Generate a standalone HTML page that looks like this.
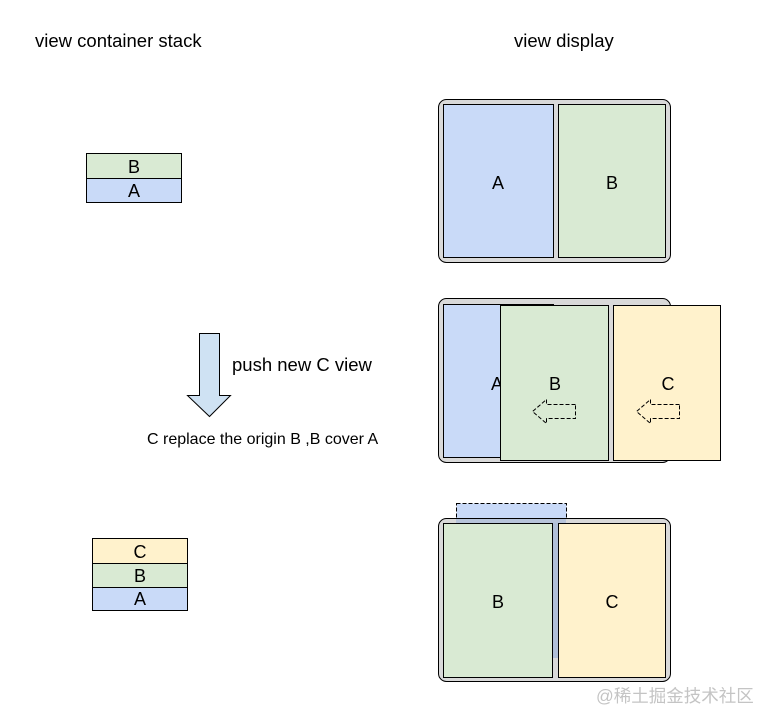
<!DOCTYPE html>
<html><head><meta charset="utf-8"><style>
html,body{margin:0;padding:0;background:#fff;width:774px;height:723px;overflow:hidden}
svg text{font-family:"Liberation Sans","Noto Sans CJK SC",sans-serif;fill:#000}
</style></head><body>
<svg width="774" height="723" viewBox="0 0 774 723" xmlns="http://www.w3.org/2000/svg">
<text x="35" y="47" font-size="18.5">view container stack</text>
<text x="514" y="47" font-size="18.5">view display</text>

<!-- left stack 1 -->
<rect x="86.5" y="153.5" width="95" height="25" fill="#d9ead3" stroke="#000"/>
<rect x="86.5" y="178.5" width="95" height="24" fill="#c9daf8" stroke="#000"/>
<text x="134" y="173" font-size="18" text-anchor="middle">B</text>
<text x="134" y="197" font-size="18" text-anchor="middle">A</text>

<!-- arrow -->
<path d="M199.5 333.5 H219.5 V395.5 H230.5 L209.5 416.5 L187.5 395.5 H199.5 Z" fill="#cfe2f3" stroke="#000"/>
<text x="232" y="371" font-size="18.5">push new C view</text>
<text x="147" y="444" font-size="16">C replace the origin B ,B cover A</text>

<!-- left stack 2 -->
<rect x="92.5" y="538.5" width="95" height="25" fill="#fff2cc" stroke="#000"/>
<rect x="92.5" y="563.5" width="95" height="24" fill="#d9ead3" stroke="#000"/>
<rect x="92.5" y="587.5" width="95" height="23" fill="#c9daf8" stroke="#000"/>
<text x="140" y="558" font-size="18" text-anchor="middle">C</text>
<text x="140" y="582" font-size="18" text-anchor="middle">B</text>
<text x="140" y="605" font-size="18" text-anchor="middle">A</text>

<!-- top device -->
<rect x="438.5" y="99.5" width="232" height="163" rx="8" fill="#d9d9d9" stroke="#000"/>
<rect x="443.5" y="104.5" width="110" height="153" fill="#c9daf8" stroke="#000"/>
<rect x="558.5" y="104.5" width="107" height="153" fill="#d9ead3" stroke="#000"/>
<text x="498" y="189" font-size="18" text-anchor="middle">A</text>
<text x="612" y="189" font-size="18" text-anchor="middle">B</text>

<!-- middle device -->
<rect x="438.5" y="298.5" width="232" height="164" rx="8" fill="#d9d9d9" stroke="#000"/>
<rect x="443.5" y="304.5" width="110" height="153" fill="#c9daf8" stroke="#000"/>
<text x="497" y="390" font-size="18" text-anchor="middle">A</text>
<rect x="500.5" y="305.5" width="108" height="155" fill="#d9ead3" stroke="#000"/>
<rect x="613.5" y="305.5" width="107" height="155" fill="#fff2cc" stroke="#000"/>
<text x="555" y="390" font-size="18" text-anchor="middle">B</text>
<text x="668" y="390" font-size="18" text-anchor="middle">C</text>
<path d="M575.5 404.5 H546.5 V399.5 L532.5 411.5 L546.5 423.5 V418.5 H575.5 Z" fill="none" stroke="#000" stroke-dasharray="4,2"/>
<path d="M679.5 404.5 H650.5 V399.5 L636.5 411.5 L650.5 423.5 V418.5 H679.5 Z" fill="none" stroke="#000" stroke-dasharray="4,2"/>

<!-- bottom device -->
<rect x="456.5" y="503.5" width="110" height="20" fill="#c9daf8" stroke="#000" stroke-dasharray="4,2"/>
<rect x="438.5" y="518.5" width="232" height="163" rx="8" fill="#d9d9d9" stroke="#000"/>
<rect x="456" y="519" width="110" height="5" fill="#b7c4da"/>
<rect x="552" y="523" width="7" height="135" fill="#b0bfd8"/>
<rect x="443.5" y="523.5" width="109" height="154" fill="#d9ead3" stroke="#000"/>
<rect x="558.5" y="523.5" width="107" height="154" fill="#fff2cc" stroke="#000"/>
<text x="498" y="608" font-size="18" text-anchor="middle">B</text>
<text x="612" y="608" font-size="18" text-anchor="middle">C</text>

<text x="596" y="702" font-size="17.5" style="fill:#c4c4c4">@稀土掘金技术社区</text>
</svg>
</body></html>
